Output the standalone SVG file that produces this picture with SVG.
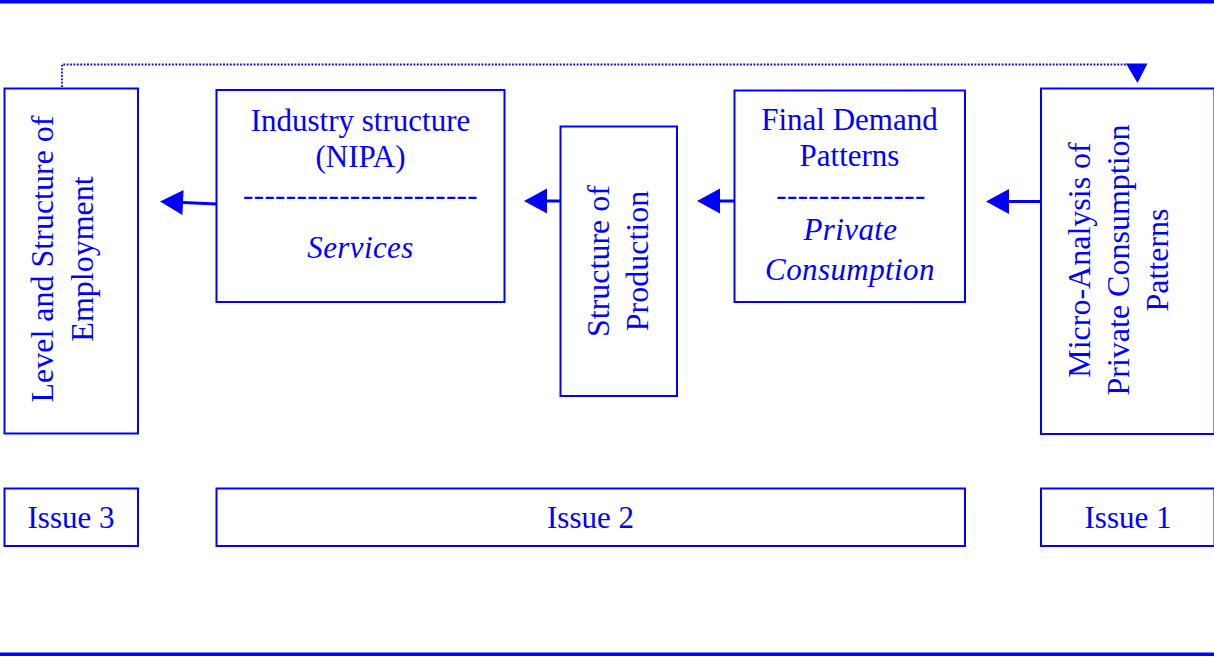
<svg xmlns="http://www.w3.org/2000/svg" width="1214" height="657" viewBox="0 0 1214 657">
  <style>
    .box { fill: #ffffff; stroke: #0000ff; stroke-width: 2; }
    .t { font-family: "Liberation Serif", "Times New Roman", serif; font-size: 31px; fill: #0000ff; }
    .v { font-size: 32px; }
    .it { font-style: italic; letter-spacing: 0.4px; }
    .dash { letter-spacing: 0.35px; }
    .c { text-anchor: middle; }
    .flow { stroke: #0000ff; stroke-width: 3; fill: none; marker-end: url(#head); }
    .loop { stroke: #0000ff; stroke-width: 1.8; fill: none; stroke-dasharray: 1.8 1.6; }
    .rule { fill: #0000ff; }
  </style>
  <defs>
    <marker id="head" markerUnits="userSpaceOnUse" viewBox="0 -12.5 23 25" refX="0" refY="0" markerWidth="23" markerHeight="25" orient="auto" overflow="visible">
      <path d="M0,-12.5 L23,0 L0,12.5 Z" fill="#0000ff"/>
    </marker>
  </defs>

  <rect width="1214" height="657" fill="#ffffff"/>

  <!-- frame rules -->
  <rect class="rule" x="0" y="0" width="1214" height="3.5"/>
  <rect class="rule" x="0" y="652.5" width="1214" height="3.5"/>

  <!-- connectors -->
  <g id="connectors">
    <path class="loop" d="M62,87 L62,64.5 L1127,64.5"/>
    <path d="M1126,63.5 L1147.5,63.5 L1137.5,83 Z" fill="#0000ff"/>
    <path class="flow" d="M217,204 L183,202.5"/>
    <path class="flow" d="M560,201 L547,201"/>
    <path class="flow" d="M734,201 L720,201"/>
    <path class="flow" d="M1041,201.5 L1009,201.5"/>
  </g>

  <!-- Level and Structure of Employment -->
  <g id="employment">
    <rect class="box" x="4.5" y="88.5" width="133.5" height="345"/>
    <text class="t v c" transform="translate(53,259) rotate(-90)"><tspan x="0" y="0">Level and Structure of</tspan><tspan x="0" dy="40">Employment</tspan></text>
  </g>

  <!-- Industry structure -->
  <g id="industry">
    <rect class="box" x="216.5" y="90" width="288" height="212"/>
    <text class="t c" x="360.5" y="131">Industry structure</text>
    <text class="t c" x="360.5" y="167">(NIPA)</text>
    <text class="t c dash" x="360.5" y="205">----------------------</text>
    <text class="t c it" x="360.5" y="258">Services</text>
  </g>

  <!-- Structure of Production -->
  <g id="production">
    <rect class="box" x="560.5" y="126.5" width="116.5" height="269.5"/>
    <text class="t v c" transform="translate(609,261) rotate(-90)"><tspan x="0" y="0">Structure of</tspan><tspan x="0" dy="39">Production</tspan></text>
  </g>

  <!-- Final Demand Patterns -->
  <g id="final-demand">
    <rect class="box" x="734.5" y="90.5" width="230.5" height="211.5"/>
    <text class="t c" x="849.5" y="130">Final Demand</text>
    <text class="t c" x="849.5" y="166">Patterns</text>
    <text class="t c dash" x="851" y="205">--------------</text>
    <text class="t c it" x="850.5" y="240">Private</text>
    <text class="t c it" x="850" y="280">Consumption</text>
  </g>

  <!-- Micro-Analysis of Private Consumption Patterns -->
  <g id="micro-analysis">
    <rect class="box" x="1041" y="88.5" width="173.5" height="345.5"/>
    <text class="t v c" transform="translate(1090,260) rotate(-90)"><tspan x="0" y="0">Micro-Analysis of</tspan><tspan x="0" dy="39">Private Consumption</tspan><tspan x="0" dy="39">Patterns</tspan></text>
  </g>

  <!-- issue bands -->
  <g id="issue-3">
    <rect class="box" x="4.5" y="488.5" width="133.5" height="57.5"/>
    <text class="t c" x="71" y="528">Issue 3</text>
  </g>
  <g id="issue-2">
    <rect class="box" x="216.5" y="488.5" width="748.5" height="57.5"/>
    <text class="t c" x="590.5" y="528">Issue 2</text>
  </g>
  <g id="issue-1">
    <rect class="box" x="1041" y="488.5" width="173.5" height="57.5"/>
    <text class="t c" x="1128" y="528">Issue 1</text>
  </g>
</svg>
